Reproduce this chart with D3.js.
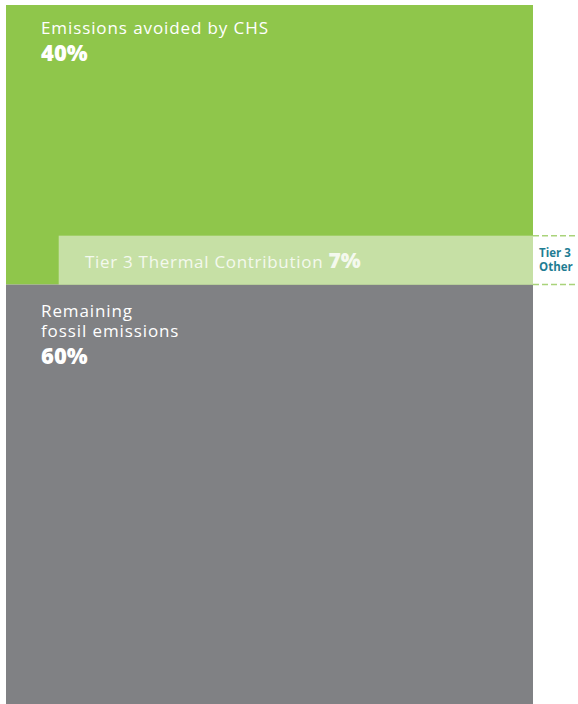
<!DOCTYPE html>
<html><head><meta charset="utf-8">
<script src="https://cdn.jsdelivr.net/npm/d3@7"></script>
<style>body{margin:0;background:#fff;}svg{display:block;}text{font-family:"Open Sans",sans-serif;}</style>
</head><body>
<script>
const categories = ["Emissions avoided by CHS", "Remaining fossil emissions"];
const values = [40, 60];
const tierLabel = "Tier 3 Thermal Contribution";
const tierValue = 7;
const tierStart = 10;
const otherLabel = ["Tier 3", "Other"];
const labelLines = [["Emissions avoided by CHS"], ["Remaining", "fossil emissions"]];
const colors = ["#8fc64b", "#808184"];

const W = 578, H = 704;
const svg = d3.select("body").append("svg").attr("width", W).attr("height", H);
const y = d3.scaleLinear().domain([0, 100]).range([5, 704]);
const x = d3.scaleLinear().domain([0, 100]).range([6, 533]);

let cum = 0;
const segs = values.map((v, i) => { const s = {cat: categories[i], v, y0: cum, y1: cum + v, i}; cum += v; return s; });

svg.selectAll("rect.seg").data(segs).join("rect").attr("class", "seg")
  .attr("x", x(0)).attr("width", x(100) - x(0))
  .attr("y", d => y(d.y0)).attr("height", d => y(d.y1) - y(d.y0))
  .attr("fill", (d, i) => colors[i]);

// Tier 3 band
const bandTop = y(values[0] - tierValue), bandBot = y(values[0]);
svg.append("rect").attr("x", x(tierStart)).attr("width", x(100) - x(tierStart))
  .attr("y", bandTop).attr("height", bandBot - bandTop).attr("fill", "#c6e0a5");

// dashed Tier 3 other
[bandTop, bandBot].forEach(yy => {
  svg.append("line").attr("x1", x(100)).attr("x2", W).attr("y1", yy).attr("y2", yy)
    .attr("stroke", "#a9d37a").attr("stroke-width", 1.5).attr("stroke-dasharray", "6,3");
});
svg.append("text").attr("x", 539).attr("y", (bandTop + bandBot) / 2 - 3)
  .attr("fill", "#1f7d93").attr("font-size", 11.5).attr("font-weight", 700).text(otherLabel[0]);
svg.append("text").attr("x", 539).attr("y", (bandTop + bandBot) / 2 + 11)
  .attr("fill", "#1f7d93").attr("font-size", 11.5).attr("font-weight", 700).text(otherLabel[1]);

const bt = svg.append("text").attr("x", 85).attr("y", (bandTop + bandBot) / 2 + 8)
  .attr("fill", "#f4f9ee").attr("font-size", 17).attr("letter-spacing", 0.7);
bt.append("tspan").text(tierLabel + " ");
bt.append("tspan").attr("font-weight", 800).attr("font-size", 21).attr("letter-spacing", 0).text(tierValue + "%");

// segment labels
segs.forEach((d, i) => {
  const top = y(d.y0);
  const lines = labelLines[i];
  const base = i === 0 ? top + 29 : top + 32;
  lines.forEach((l, j) => {
    svg.append("text").attr("x", 41).attr("y", base + j * 20)
      .attr("fill", "#fff").attr("font-size", 17).attr("letter-spacing", 0.9).text(l);
  });
  svg.append("text").attr("x", 41).attr("y", base + (lines.length - 1) * 20 + 27)
    .attr("fill", "#fff").attr("font-size", 22).attr("font-weight", 800).text(d.v + "%");
});
</script>
</body></html>
